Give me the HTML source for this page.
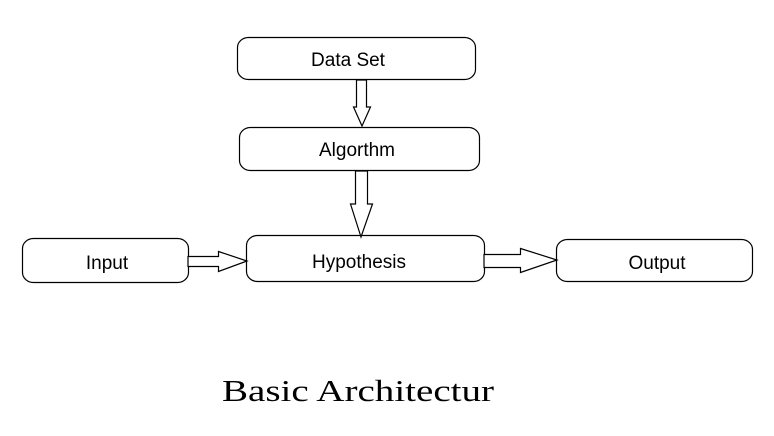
<!DOCTYPE html>
<html><head><meta charset="utf-8"><style>html,body{margin:0;padding:0;background:#fff;}svg{display:block}</style></head>
<body>
<svg width="774" height="436" viewBox="0 0 774 436" xmlns="http://www.w3.org/2000/svg">
<g fill="#fff" stroke="#000" stroke-width="1.2">
<rect x="237.5" y="37.5" width="238" height="42" rx="11" ry="10"/>
<rect x="239.5" y="127.5" width="240" height="43" rx="11" ry="10"/>
<rect x="246.5" y="235.5" width="238" height="46" rx="11" ry="10"/>
<rect x="22.5" y="238.5" width="166" height="44" rx="11" ry="10"/>
<rect x="556.5" y="239.5" width="196" height="42" rx="11" ry="10"/>
<!-- arrows -->
<polygon points="356.5,80 366.5,80 366.5,107 370.5,107 362,126 353.5,107 356.5,107"/>
<polygon points="355.5,171 367.5,171 367.5,204 372.5,204 361,237 350.5,204 355.5,204"/>
<polygon points="188,256.5 218.5,256.5 218.5,251.5 247,261 218.5,271.5 218.5,266.5 188,266.5"/>
<polygon points="484,254.5 520.5,254.5 520.5,248.5 557,260 520.5,272.5 520.5,267.5 484,267.5"/>
</g>
<g font-family="Liberation Sans, sans-serif" font-size="19" text-anchor="middle" fill="#000">
<text x="348" y="66">Data Set</text>
<text x="357" y="156">Algorthm</text>
<text x="359" y="268">Hypothesis</text>
<text x="107" y="269">Input</text>
<text x="657" y="269">Output</text>
</g>
<text x="222" y="401" font-family="Liberation Serif, serif" font-size="31" textLength="272" lengthAdjust="spacingAndGlyphs" fill="#000">Basic Architectur</text>
</svg>
</body></html>
